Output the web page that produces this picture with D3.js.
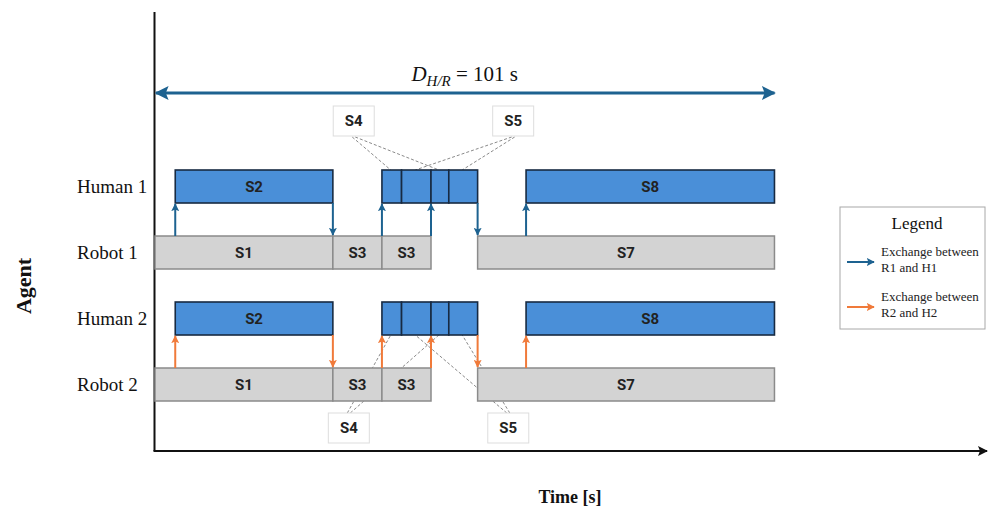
<!DOCTYPE html>
<html>
<head>
<meta charset="utf-8">
<script src="https://cdn.jsdelivr.net/npm/d3@7"></script>
<style>
  html, body { margin: 0; padding: 0; background: #ffffff; }
  svg { display: block; }
</style>
</head>
<body>
<div id="svgOutput"></div>
<script>
// data

const agents = ["Human 1", "Robot 1", "Human 2", "Robot 2"];

const humanLabels = ["S2", "", "", "", "", "S8"];
const humanStarts = [3.3, 37, 40.2, 45, 47.9, 60.5];
const humanEnds = [29, 40.2, 45, 47.9, 52.6, 101];

const robotLabels = ["S1", "S3", "S3", "S7"];
const robotStarts = [0, 29, 37, 52.6];
const robotEnds = [29, 37, 45, 101];

const exchangeTimes = [3.3, 29, 37, 45, 52.6, 60.5];
const exchangeDirs = ["up", "down", "up", "up", "down", "up"];

const pairHumans = ["Human 1", "Human 2"];
const pairRobots = ["Robot 1", "Robot 2"];
const pairNames = ["Exchange between\nR1 and H1", "Exchange between\nR2 and H2"];

const calloutLabels = ["S4", "S5", "S4", "S5"];
const calloutTimes = [32.4, 58.4, 31.6, 57.6];
const calloutSides = ["top", "top", "bottom", "bottom"];
const calloutTargets = [[1, 3], [2, 4], [1, 3], [2, 4]];

const durationStart = 0;
const durationEnd = 101;

(function () {
  document.addEventListener('DOMContentLoaded', function () {

    // config

    const width = 989;
    const height = 511;
    const blockH = 33;
    const pairColors = ["#1d6290", "#f07a3a"];
    const serif = '"Liberation Serif", "Times New Roman", serif';
    const sans = 'Roboto, "Liberation Sans", Arial, sans-serif';

    const humanTasks = humanLabels.map((l, i) => ({ label: l, start: humanStarts[i], end: humanEnds[i] }));
    const robotTasks = robotLabels.map((l, i) => ({ label: l, start: robotStarts[i], end: robotEnds[i] }));

    // scales

    const xScale = d3.scaleLinear()
      .domain([0, 135])
      .range([155, 983]);

    const yScale = d3.scalePoint()
      .domain(agents)
      .range([186.5, 384.5]);

    const svg = d3.select("#svgOutput")
      .append("svg")
      .attr("width", width)
      .attr("height", height)
      .attr("viewBox", [0, 0, width, height]);

    const defs = svg.append("defs");

    function addMarker(id, color, size) {
      defs.append("marker")
        .attr("id", id)
        .attr("viewBox", "0 0 10 10")
        .attr("refX", 9)
        .attr("refY", 5)
        .attr("markerUnits", "userSpaceOnUse")
        .attr("markerWidth", size)
        .attr("markerHeight", size)
        .attr("orient", "auto-start-reverse")
        .append("path")
        .attr("d", "M0,0 L10,5 L0,10 L2,5 z")
        .attr("fill", color);
    }
    addMarker("arr0", pairColors[0], 8);
    addMarker("arr1", pairColors[1], 8);
    addMarker("arrD", "#1d6290", 14);
    addMarker("arrAxis", "#111111", 10);

    // axes

    svg.append("line")
      .attr("x1", 154.5).attr("x2", 154.5)
      .attr("y1", 12).attr("y2", 451)
      .attr("stroke", "#111").attr("stroke-width", 2);

    svg.append("line")
      .attr("x1", 153.5).attr("x2", 987)
      .attr("y1", 451).attr("y2", 451)
      .attr("stroke", "#111").attr("stroke-width", 2)
      .attr("marker-end", "url(#arrAxis)");

    // agent labels sit left-aligned in the reference
    svg.append("g")
      .attr("transform", "translate(77, 0)")
      .call(d3.axisLeft(yScale).tickSize(0).tickPadding(0))
      .call(g => g.select(".domain").remove())
      .call(g => g.selectAll(".tick text")
        .attr("x", 0)
        .attr("text-anchor", "start")
        .attr("fill", "#111")
        .style("font-family", serif)
        .style("font-size", "19px"));

    svg.append("text")
      .attr("transform", "translate(31, 286) rotate(-90)")
      .attr("text-anchor", "middle")
      .style("font-family", serif)
      .style("font-size", "22px")
      .style("font-weight", "bold")
      .attr("fill", "#111")
      .text("Agent");

    svg.append("text")
      .attr("x", 570)
      .attr("y", 503)
      .attr("text-anchor", "middle")
      .style("font-family", serif)
      .style("font-size", "18px")
      .style("font-weight", "bold")
      .attr("fill", "#111")
      .text("Time [s]");

    // duration arrow

    svg.append("line")
      .attr("x1", xScale(durationStart) + 1)
      .attr("x2", xScale(durationEnd))
      .attr("y1", 93).attr("y2", 93)
      .attr("stroke", "#1d6290")
      .attr("stroke-width", 3)
      .attr("marker-start", "url(#arrD)")
      .attr("marker-end", "url(#arrD)");

    const dText = svg.append("text")
      .attr("x", (xScale(durationStart) + xScale(durationEnd)) / 2)
      .attr("y", 81)
      .attr("text-anchor", "middle")
      .style("font-family", serif)
      .style("font-size", "21px")
      .attr("fill", "#111");
    dText.append("tspan").style("font-style", "italic").text("D");
    dText.append("tspan").style("font-style", "italic").style("font-size", "15px")
      .attr("dy", 5).text("H/R");
    dText.append("tspan").attr("dy", -5).text(` = ${durationEnd} s`);

    // callout dashed lines (behind blocks)

    const callouts = calloutLabels.map((l, i) => ({
      label: l, t: calloutTimes[i], side: calloutSides[i], targets: calloutTargets[i]
    }));

    callouts.forEach(c => {
      const top = c.side === "top";
      const human = top ? "Human 1" : "Human 2";
      const fromY = top ? 137 : 413;
      const toY = top ? yScale(human) - blockH / 2 : yScale(human) + blockH / 2;
      c.targets.forEach((ti, k) => {
        const seg = humanTasks[ti];
        svg.append("line")
          .attr("x1", xScale(c.t) + (k - 0.5) * 3)
          .attr("y1", fromY)
          .attr("x2", xScale((seg.start + seg.end) / 2) - 1)
          .attr("y2", toY)
          .attr("stroke", "#8a8a8a")
          .attr("stroke-width", 1)
          .attr("stroke-dasharray", "3,2");
      });
    });

    // blocks

    const rows = svg.append("g");

    pairHumans.forEach((h, p) => {
      rows.selectAll(null)
        .data(robotTasks)
        .join("rect")
        .attr("x", d => xScale(d.start))
        .attr("y", yScale(pairRobots[p]) - blockH / 2)
        .attr("width", d => xScale(d.end) - xScale(d.start))
        .attr("height", blockH)
        .attr("fill", "#d3d3d3")
        .attr("stroke", "#8b8b8b")
        .attr("stroke-width", 1.5);

      rows.selectAll(null)
        .data(humanTasks)
        .join("rect")
        .attr("x", d => xScale(d.start))
        .attr("y", yScale(h) - blockH / 2)
        .attr("width", d => xScale(d.end) - xScale(d.start))
        .attr("height", blockH)
        .attr("fill", "#4a8fd8")
        .attr("stroke", "#172a42")
        .attr("stroke-width", 1.6);

      [[robotTasks, pairRobots[p]], [humanTasks, h]].forEach(([tasks, agent]) => {
        rows.selectAll(null)
          .data(tasks.filter(d => d.label))
          .join("text")
          .attr("x", d => xScale((d.start + d.end) / 2))
          .attr("y", yScale(agent))
          .attr("dy", "0.36em")
          .attr("text-anchor", "middle")
          .style("font-family", sans)
          .style("font-size", "15px")
          .style("font-weight", "bold")
          .attr("fill", "#222")
          .text(d => d.label);
      });

      // exchange arrows

      rows.selectAll(null)
        .data(exchangeTimes.map((t, i) => ({ t: t, dir: exchangeDirs[i] })))
        .join("line")
        .attr("x1", d => xScale(d.t))
        .attr("x2", d => xScale(d.t))
        .attr("y1", d => d.dir === "up" ? yScale(pairRobots[p]) - blockH / 2 : yScale(h) + blockH / 2)
        .attr("y2", d => d.dir === "up" ? yScale(h) + blockH / 2 + 1 : yScale(pairRobots[p]) - blockH / 2 - 1)
        .attr("stroke", pairColors[p])
        .attr("stroke-width", 2)
        .attr("marker-end", `url(#arr${p})`);
    });

    // callout boxes

    callouts.forEach(c => {
      const cy = c.side === "top" ? 121 : 428;
      svg.append("rect")
        .attr("x", xScale(c.t) - 20.5)
        .attr("y", cy - 15)
        .attr("width", 41)
        .attr("height", 30)
        .attr("fill", "#ffffff")
        .attr("stroke", "#dddddd");
      svg.append("text")
        .attr("x", xScale(c.t))
        .attr("y", cy)
        .attr("dy", "0.36em")
        .attr("text-anchor", "middle")
        .style("font-family", sans)
        .style("font-size", "15px")
        .style("font-weight", "bold")
        .attr("fill", "#222")
        .text(c.label);
    });

    // legend

    const legend = svg.append("g").attr("transform", "translate(840, 207)");

    legend.append("rect")
      .attr("x", 0).attr("y", 0)
      .attr("width", 145).attr("height", 122)
      .attr("fill", "#ffffff")
      .attr("stroke", "#a8a8a8");

    legend.append("text")
      .attr("x", 77).attr("y", 22)
      .attr("text-anchor", "middle")
      .style("font-family", serif)
      .style("font-size", "17px")
      .attr("fill", "#111")
      .text("Legend");

    pairNames.forEach((name, i) => {
      const ly = 55 + i * 45;
      legend.append("line")
        .attr("x1", 7).attr("x2", 34)
        .attr("y1", ly).attr("y2", ly)
        .attr("stroke", pairColors[i])
        .attr("stroke-width", 2)
        .attr("marker-end", `url(#arr${i})`);
      const t = legend.append("text")
        .attr("x", 41).attr("y", ly - 6)
        .style("font-family", serif)
        .style("font-size", "13px")
        .attr("fill", "#222");
      name.split("\n").forEach((s, k) => {
        t.append("tspan").attr("x", 41).attr("dy", k ? 16 : 0).text(s);
      });
    });

  });
})();
</script>
</body>
</html>
